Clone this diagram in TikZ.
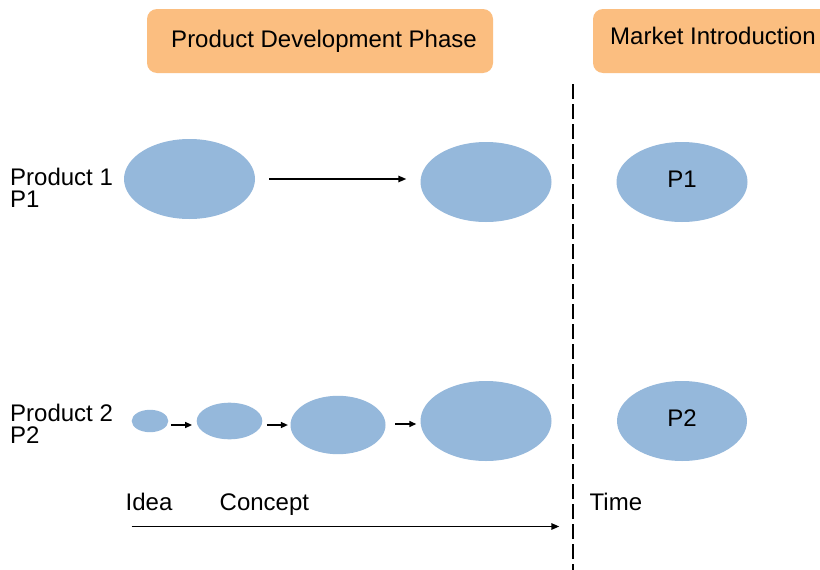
\documentclass[tikz,border=0pt]{standalone}
\usepackage{fontspec}
\setmainfont{Liberation Sans}
\usetikzlibrary{arrows.meta,shapes.geometric}
\definecolor{phaseorange}{RGB}{251,190,128}
\definecolor{pblue}{RGB}{149,184,219}
\begin{document}
\begin{tikzpicture}[x=1pt,y=-1pt,
  lbl/.style={inner sep=0pt, font=\fontsize{24}{26}\selectfont},
  rowlbl/.style={inner sep=0pt, align=left, font=\fontsize{24}{21.5}\selectfont},
  phasebox/.style={fill=phaseorange, draw=none, rounded corners=10pt, inner sep=0pt},
  blob/.style={ellipse, fill=pblue, draw=none, inner sep=0pt},
  pblob/.style={blob, font=\fontsize{24}{26}\selectfont, text depth=6pt},
  arr/.style={line width=1.4pt, -{Triangle[length=8pt,width=6.5pt]}},
  sarr/.style={line width=1.4pt, -{Triangle[length=7pt,width=6pt]}},
  divider/.style={line width=2pt, dash pattern=on 15pt off 5pt}
]
\useasboundingbox (0,0) rectangle (820,570);
\clip (0,0) rectangle (820,570);
\fill[white] (0,0) rectangle (820,570);

% phase boxes
\node[phasebox, minimum width=346pt, minimum height=64pt] (pdp) at (320,41) {};
\node[lbl, anchor=base] (pdpt) at (324,47) {Product Development Phase};
\node[phasebox, minimum width=242pt, minimum height=64pt] (mi) at (714,41) {};
\node[lbl, anchor=base west] (mit) at (610,45) {Market Introduction};

% divider
\coordinate (dtop) at (573.3,84);
\coordinate (dbot) at (573.3,580);
\draw[divider] (dtop) -- (dbot);

% row labels (base anchor = baseline of last line)
\node[rowlbl, anchor=base west] (prod1) at (10,207.2) {Product 1\\P1};
\node[rowlbl, anchor=base west] (prod2) at (10,443.3) {Product 2\\P2};

% row 1
\node[blob, minimum width=131pt, minimum height=80pt] (e1) at (189.5,179) {};
\node[blob, minimum width=131pt, minimum height=80pt] (e2) at (486,182) {};
\node[pblob, minimum width=131pt, minimum height=80pt] (m1) at (682,182) {P1};
\draw[arr, shorten <=14pt, shorten >=14pt] (e1.east) -- (e1.east -| e2.west);

% row 2
\node[blob, minimum width=36.6pt, minimum height=22.4pt] (s1) at (150,421) {};
\node[blob, minimum width=65.6pt, minimum height=36.6pt] (s2) at (229.5,421) {};
\node[blob, minimum width=95pt, minimum height=58.4pt] (s3) at (338,425) {};
\node[blob, minimum width=131pt, minimum height=80pt] (s4) at (486,421) {};
\node[pblob, minimum width=130pt, minimum height=80pt] (m2) at (682,421) {P2};
\draw[sarr, shorten <=2.4pt, shorten >=4.4pt] ([yshift=-4pt]s1.east) -- ([yshift=-4pt]s1.east -| s2.west);
\draw[sarr, shorten <=4.4pt, shorten >=2.4pt] ([yshift=-4pt]s2.east) -- (s3.west);
\draw[sarr, shorten <=9.3pt, shorten >=4pt] ([yshift=1pt]s3.east) -- ([yshift=1pt]s3.east -| s4.west);

% time axis
\node[lbl, anchor=base west] (idea) at (125.5,510.7) {Idea};
\node[lbl, anchor=base west] (concept) at (219.5,510.7) {Concept};
\node[lbl, anchor=base west] (time) at (589.5,510) {Time};
\coordinate (tstart) at (131.7,526.5);
\coordinate (tend) at (559.3,526.5);
\draw[arr] (tstart) -- (tend);
\end{tikzpicture}
\end{document}
